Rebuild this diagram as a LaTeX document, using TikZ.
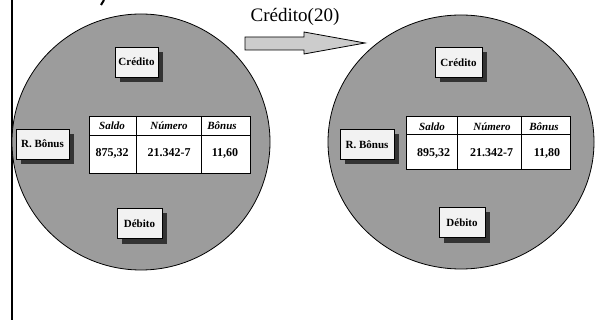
\documentclass[tikz,border=0pt]{standalone}
\usepackage{fontspec}
\setmainfont{Liberation Serif}
\usetikzlibrary{shadows}
\definecolor{discgray}{HTML}{9C9C9C}
\definecolor{boxfill}{HTML}{F2F2F2}
\definecolor{shadowgray}{HTML}{333333}
\definecolor{arrowfill}{HTML}{CCCCCC}
\begin{document}
\begin{tikzpicture}[x=1pt,y=-1pt,
    caixa/.style={draw, line width=0.8pt, fill=boxfill, inner sep=0pt,
      font=\fontsize{11}{12}\selectfont\bfseries, minimum height=30pt,
      general shadow={fill=shadowgray, shadow xshift=5pt, shadow yshift=-5pt}},
    cab/.style={anchor=base, inner sep=0pt, font=\fontsize{11}{12}\selectfont\bfseries\itshape},
    val/.style={anchor=base, inner sep=0pt, font=\fontsize{12}{13}\selectfont\bfseries}]
  \useasboundingbox (0,0) rectangle (596,320);
  % left border and cut mark
  \draw[line width=2.3pt] (12.2,0) -- (12.2,320);
  \draw[line width=2pt] (104,0) -- (101,5);
  % message
  \node[anchor=base, font=\fontsize{19}{20}\selectfont] (msg) at (295,22) {Crédito(20)};
  \draw[line width=0.8pt, fill=arrowfill] (245,37) -- (304,37) -- (304,32) -- (365,43)
    -- (304,54) -- (304,50) -- (245,50) -- cycle;
  % object before
  \draw[line width=0.8pt, fill=discgray] (141,142) ellipse [x radius=129, y radius=128];
  \node[caixa, minimum width=43pt] (credL) at (136.5,62) {Crédito};
  \node[caixa, minimum width=53pt] (bonusL) at (42.5,144) {R. Bônus};
  \node[caixa, minimum width=45pt] (debL) at (139.5,223.5) {Débito};
  \draw[line width=1pt, fill=white] (89,117) rectangle (250,174);
  \draw[line width=0.8pt] (89,135) -- (250,135) (136,117) -- (136,174) (201,117) -- (201,174);
  \node[cab] (saldoL) at (112,130) {Saldo};
  \node[cab] (numL) at (169,130) {Número};
  \node[cab] (bonL) at (222,130) {Bônus};
  \node[val] (vsaldoL) at (112,157) {875,32};
  \node[val] (vnumL) at (169,157) {21.342-7};
  \node[val] (vbonL) at (225,157) {11,60};
  % object after
  \draw[line width=0.8pt, fill=discgray] (461,142) ellipse [x radius=133, y radius=127];
  \node[caixa, minimum width=47pt] (credR) at (458.5,62.5) {Crédito};
  \node[caixa, minimum width=54pt] (bonusR) at (367,144.5) {R. Bônus};
  \node[caixa, minimum width=46pt] (debR) at (462,222.5) {Débito};
  \draw[line width=1pt, fill=white] (406,117) rectangle (570,170);
  \draw[line width=0.8pt] (406,134) -- (570,134) (457,117) -- (457,170) (521,117) -- (521,170);
  \node[cab] (saldoR) at (432,131) {Saldo};
  \node[cab] (numR) at (492,131) {Número};
  \node[cab] (bonR) at (544,131) {Bônus};
  \node[val] (vsaldoR) at (433.5,157) {895,32};
  \node[val] (vnumR) at (491.5,157) {21.342-7};
  \node[val] (vbonR) at (547,157) {11,80};
\end{tikzpicture}
\end{document}
